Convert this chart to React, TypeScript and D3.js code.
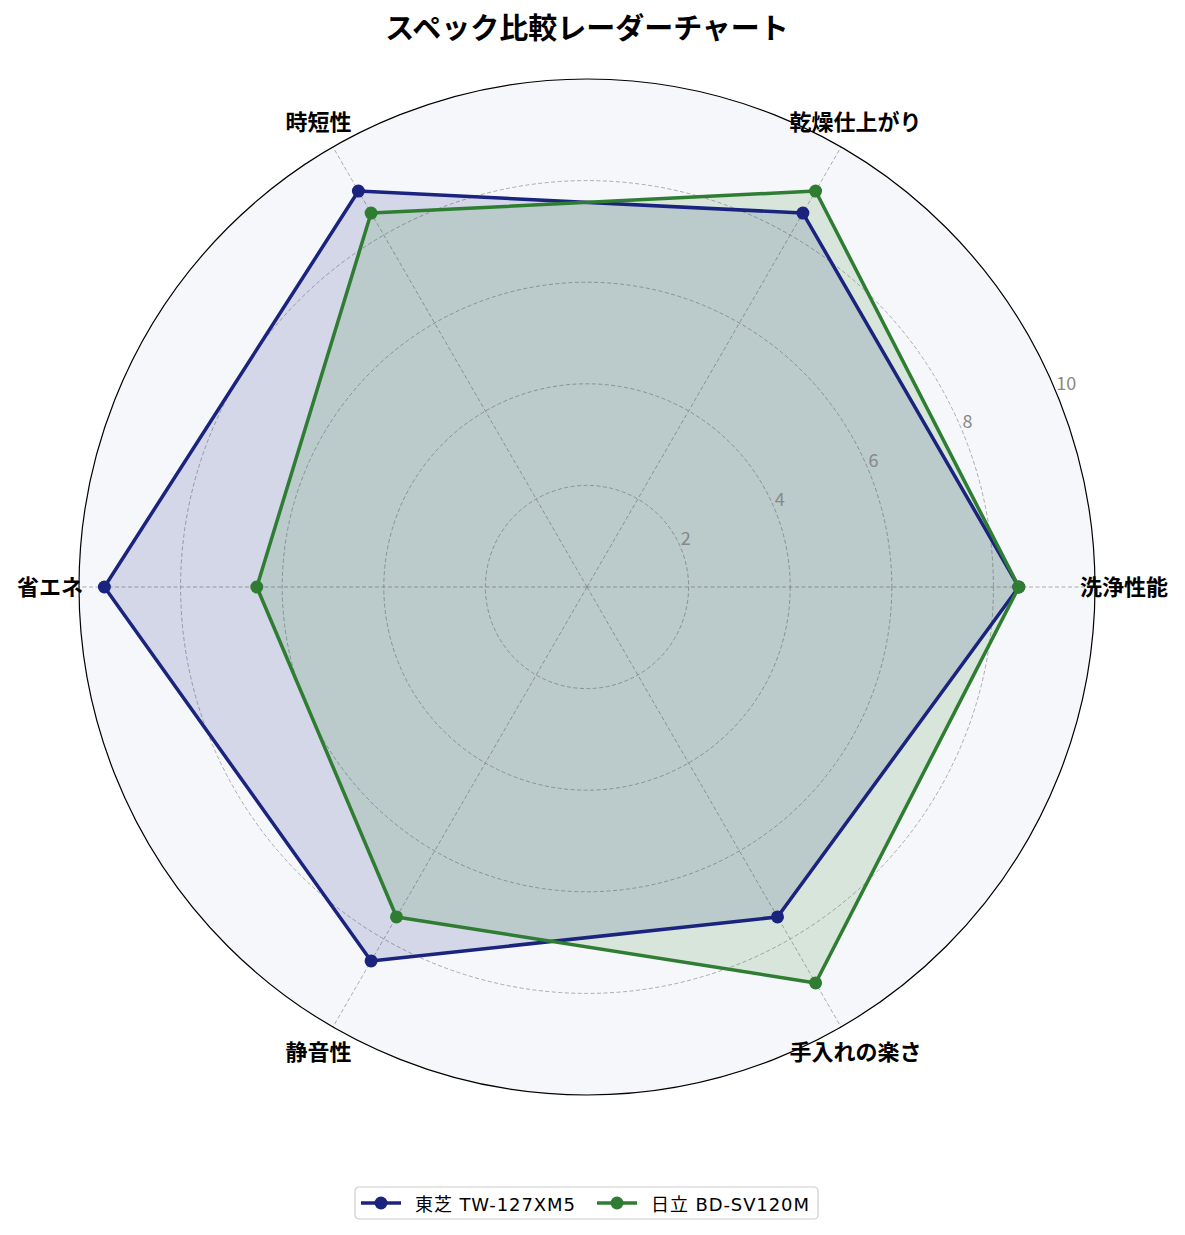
import { useMemo } from "react";
import * as d3 from "d3";

const width = 1185;
const height = 1235;
const cx = 587;
const cy = 587;
const outerR = 508;

const title = "スペック比較レーダーチャート";
const categories = ["洗浄性能", "乾燥仕上がり", "時短性", "省エネ", "静音性", "手入れの楽さ"];
const toshiba = [8.5, 8.5, 9.0, 9.5, 8.5, 7.5];
const hitachi = [8.5, 9.0, 8.5, 6.5, 7.5, 9.0];
const rTicks = [2, 4, 6, 8, 10];
const seriesNames = ["東芝 TW-127XM5", "日立 BD-SV120M"];
const seriesColors = ["#1a237e", "#2e7d32"];

const font = "'Noto Sans CJK JP', 'Noto Sans', sans-serif";
const legendFont = "'DejaVu Sans', 'Noto Sans CJK JP', sans-serif";

// math angle (ccw from east) -> d3 radial angle (cw from north)
const angleOf = (i: number) => Math.PI / 2 - (i * 2 * Math.PI) / categories.length;

const App = () => {
  const rScale = useMemo(() => d3.scaleLinear().domain([0, 10]).range([0, outerR]), []);

  const line = d3
    .lineRadial<number>()
    .angle((_, i) => angleOf(i))
    .radius((d) => rScale(d))
    .curve(d3.curveLinearClosed);

  const pt = (v: number, i: number) => {
    const a = (i * 2 * Math.PI) / categories.length;
    return [rScale(v) * Math.cos(a), -rScale(v) * Math.sin(a)];
  };

  const series = [toshiba, hitachi];
  const labelR = 537;
  const rlabelAngle = (22.5 * Math.PI) / 180;

  return (
    <svg
      width={width}
      height={height}
      style={{ position: "absolute", left: 0, top: 0, background: "#fff" }}
      fontFamily={font}
    >
      <text x={cx} y={39} textAnchor="middle" fontSize={29} fontWeight="bold" fill="#000">
        {title}
      </text>
      <g transform={`translate(${cx},${cy})`}>
        <circle r={outerR} fill="#f5f7fa" stroke="none" />
        {rTicks.slice(0, -1).map((t) => (
          <circle key={t} r={rScale(t)} fill="none" stroke="#999" strokeWidth={0.8} strokeDasharray="4,2.5" />
        ))}
        {categories.map((c, i) => {
          const [x, y] = pt(10, i);
          return <line key={c} x1={0} y1={0} x2={x} y2={y} stroke="#999" strokeWidth={0.8} strokeDasharray="4,2.5" />;
        })}
        {series.map((s, k) => (
          <path key={"f" + k} d={line(s) ?? ""} fill={seriesColors[k]} fillOpacity={0.15} stroke="none" />
        ))}
        {series.map((s, k) => (
          <g key={"l" + k}>
            <path d={line(s) ?? ""} fill="none" stroke={seriesColors[k]} strokeWidth={3.5} strokeLinejoin="round" />
            {s.map((v, i) => {
              const [x, y] = pt(v, i);
              return <circle key={i} cx={x} cy={y} r={6.5} fill={seriesColors[k]} />;
            })}
          </g>
        ))}
        <circle r={outerR} fill="none" stroke="#000" strokeWidth={1.2} />
        {rTicks.map((t) => (
          <text
            key={t}
            x={rScale(t) * Math.cos(rlabelAngle)}
            y={-rScale(t) * Math.sin(rlabelAngle) - 3}
            fontSize={18}
            fill="#888"
            textAnchor="start"
          >
            {t}
          </text>
        ))}
        {categories.map((c, i) => {
          const a = (i * 2 * Math.PI) / categories.length;
          return (
            <text
              key={c}
              x={labelR * Math.cos(a)}
              y={-labelR * Math.sin(a) - 2}
              textAnchor="middle"
              dominantBaseline="central"
              fontSize={22}
              fontWeight="bold"
              fill="#000"
            >
              {c}
            </text>
          );
        })}
      </g>
      <g transform="translate(355,1187)">
        <rect x={0} y={0} width={463} height={32} rx={4} fill="#fff" stroke="#ccc" strokeWidth={1.2} />
        {seriesNames.map((n, k) => {
          const ox = k === 0 ? 6 : 242;
          return (
            <g key={n} transform={`translate(${ox},16)`}>
              <line x1={0} x2={40} y1={0} y2={0} stroke={seriesColors[k]} strokeWidth={3.5} />
              <circle cx={20} cy={0} r={6.5} fill={seriesColors[k]} />
              <text x={54} y={1} dominantBaseline="central" fontSize={18} letterSpacing={0.9} fill="#000" fontFamily={legendFont}>
                {n}
              </text>
            </g>
          );
        })}
      </g>
    </svg>
  );
};

export default App;
